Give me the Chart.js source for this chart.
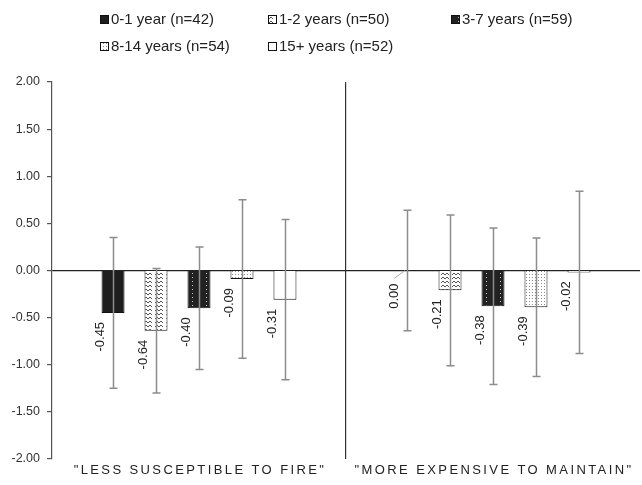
<!DOCTYPE html>
<html>
<head>
<meta charset="utf-8">
<script src="https://cdn.jsdelivr.net/npm/chart.js@4/dist/chart.umd.min.js"></script>
<style>
  html, body { margin: 0; padding: 0; background: #fff; }
  #wrap { width: 642px; height: 485px; position: relative; }
</style>
</head>
<body>
<div id="wrap"><canvas id="c" width="642" height="485"></canvas></div>
<script>
// Categories (statements rated by respondents)
const categories = ['"LESS SUSCEPTIBLE TO FIRE"', '"MORE EXPENSIVE TO MAINTAIN"'];

// Series names (years of experience)
const seriesNames = ['0-1 year (n=42)', '1-2 years (n=50)', '3-7 years (n=59)', '8-14 years (n=54)', '15+ years (n=52)'];

// Mean scores per series, one value per category
const years0to1 = [-0.45, 0.00];
const years1to2 = [-0.64, -0.21];
const years3to7 = [-0.40, -0.38];
const years8to14 = [-0.09, -0.39];
const years15plus = [-0.31, -0.02];

// Error bar half-widths (±) per series, one value per category
const err0to1 = [0.80, 0.64];
const err1to2 = [0.66, 0.80];
const err3to7 = [0.65, 0.83];
const err8to14 = [0.84, 0.735];
const err15plus = [0.85, 0.86];

// Y axis ticks
const yTicks = [2.00, 1.50, 1.00, 0.50, 0.00, -0.50, -1.00, -1.50, -2.00];

const seriesValues = [years0to1, years1to2, years3to7, years8to14, years15plus];
const seriesErrors = [err0to1, err1to2, err3to7, err8to14, err15plus];

// ---- fill patterns ----
function makeTile(w, h, draw) {
  const c = document.createElement('canvas');
  c.width = w; c.height = h;
  const g = c.getContext('2d');
  draw(g);
  return document.getElementById('c').getContext('2d').createPattern(c, 'repeat');
}
const solidBlack = '#1e1e1e';
const wavePattern = makeTile(11, 4, g => {
  g.fillStyle = '#fff'; g.fillRect(0, 0, 11, 4);
  g.strokeStyle = '#555'; g.lineWidth = 1;
  g.beginPath();
  g.moveTo(1, 3); g.lineTo(3, 1); g.lineTo(5, 3); g.lineTo(7, 1); g.lineTo(9, 3);
  g.stroke();
});
const darkDotPattern = makeTile(7, 4, g => {
  g.fillStyle = '#222'; g.fillRect(0, 0, 7, 4);
  g.fillStyle = '#c8c8c8'; g.fillRect(3, 1, 1, 1);
});
const fineDotPattern = makeTile(3, 3, g => {
  g.fillStyle = '#fff'; g.fillRect(0, 0, 3, 3);
  g.fillStyle = '#8a8a8a'; g.fillRect(1, 1, 1, 1);
});
const fills = [solidBlack, wavePattern, darkDotPattern, fineDotPattern, '#ffffff'];

const FONT = '"Liberation Sans", Arial, sans-serif';

// Error bars drawn over the bars
const errorBarPlugin = {
  id: 'errorBars',
  afterDatasetsDraw(chart) {
    const ctx = chart.ctx;
    const y = chart.scales.y;
    ctx.save();
    ctx.strokeStyle = '#8c8c8c';
    ctx.lineWidth = 1.5;
    chart.data.datasets.forEach((ds, di) => {
      const meta = chart.getDatasetMeta(di);
      meta.data.forEach((bar, i) => {
        const v = ds.data[i];
        const e = seriesErrors[di][i];
        const yTop = y.getPixelForValue(v + e);
        const yBot = y.getPixelForValue(v - e);
        const x = Math.round(bar.x) + 0.5;
        ctx.beginPath();
        ctx.moveTo(x, yTop); ctx.lineTo(x, yBot);
        ctx.moveTo(x - 4, yTop); ctx.lineTo(x + 4, yTop);
        ctx.moveTo(x - 4, yBot); ctx.lineTo(x + 4, yBot);
        ctx.stroke();
      });
    });
    ctx.restore();
  }
};

// Rotated value labels below each bar end
const valueLabelPlugin = {
  id: 'valueLabels',
  afterDatasetsDraw(chart) {
    const ctx = chart.ctx;
    ctx.save();
    ctx.font = '13px ' + FONT;
    ctx.fillStyle = '#222';
    chart.data.datasets.forEach((ds, di) => {
      const meta = chart.getDatasetMeta(di);
      meta.data.forEach((bar, i) => {
        const v = ds.data[i];
        const lx = bar.x - 13;
        const top = bar.y + (Math.abs(v) < 0.005 ? 13 : 9);
        if (Math.abs(v) < 0.005) {
          ctx.save();
          ctx.strokeStyle = '#aaa'; ctx.lineWidth = 1;
          ctx.beginPath();
          ctx.moveTo(lx, top - 5); ctx.lineTo(bar.x - 2, bar.y);
          ctx.stroke();
          ctx.restore();
        }
        ctx.save();
        ctx.translate(lx, top);
        ctx.rotate(-Math.PI / 2);
        ctx.textAlign = 'right';
        ctx.textBaseline = 'middle';
        ctx.fillText(v.toFixed(2), 0, 0);
        ctx.restore();
      });
    });
    ctx.restore();
  }
};

// Category labels with wide letter spacing
const categoryLabelPlugin = {
  id: 'categoryLabels',
  afterDraw(chart) {
    const ctx = chart.ctx;
    const x = chart.scales.x;
    ctx.save();
    ctx.font = '13px ' + FONT;
    ctx.fillStyle = '#222';
    ctx.letterSpacing = '2.4px';
    ctx.textAlign = 'center';
    ctx.textBaseline = 'middle';
    categories.forEach((c, i) => {
      ctx.fillText(c, x.getPixelForValue(i) + 1, 470);
    });
    ctx.restore();
  }
};

// Two-row legend laid out in columns
const legendPlugin = {
  id: 'gridLegend',
  afterDraw(chart) {
    const ctx = chart.ctx;
    const cols = [100, 268, 451];
    const rows = [20, 47];
    ctx.save();
    ctx.font = '15px ' + FONT;
    ctx.textBaseline = 'middle';
    chart.data.datasets.forEach((ds, i) => {
      const bx = cols[i % 3];
      const by = rows[Math.floor(i / 3)];
      ctx.fillStyle = ds.backgroundColor;
      ctx.fillRect(bx, by - 5, 9, 9);
      ctx.strokeStyle = '#111'; ctx.lineWidth = 1;
      ctx.strokeRect(bx + 0.5, by - 4.5, 8, 8);
      ctx.fillStyle = '#222';
      ctx.fillText(ds.label, bx + 11, by);
    });
    ctx.restore();
  }
};

new Chart(document.getElementById('c'), {
  type: 'bar',
  data: {
    labels: categories,
    datasets: seriesNames.map((name, i) => ({
      label: name,
      data: seriesValues[i],
      backgroundColor: fills[i],
      borderColor: '#111',
      borderWidth: 1,
      categoryPercentage: 0.731,
      barPercentage: 0.535
    }))
  },
  options: {
    responsive: false,
    animation: false,
    devicePixelRatio: 1,
    layout: { padding: { top: 82, right: 2, left: 0, bottom: 0 } },
    plugins: {
      legend: { display: false },
      tooltip: { enabled: false }
    },
    scales: {
      x: {
        ticks: { display: false },
        border: { display: false },
        grid: {
          offset: true,
          drawTicks: false,
          color: ctx => ctx.index === 1 ? '#333' : 'rgba(0,0,0,0)',
          lineWidth: 1.2
        },
        afterFit(scale) { scale.height = 26; }
      },
      y: {
        min: -2, max: 2,
        afterBuildTicks(scale) { scale.ticks = yTicks.map(v => ({ value: v })); },
        ticks: {
          padding: 7,
          color: '#333',
          font: { family: FONT, size: 12.5 },
          callback: v => Number(v).toFixed(2)
        },
        border: { display: true, color: '#555', width: 1.2 },
        grid: {
          drawOnChartArea: true,
          tickLength: 5,
          tickColor: '#555',
          color: ctx => (ctx.tick && ctx.tick.value === 0) ? '#222' : 'rgba(0,0,0,0)',
          lineWidth: 1.2
        },
        afterFit(scale) { scale.width = 52; }
      }
    }
  },
  plugins: [errorBarPlugin, valueLabelPlugin, categoryLabelPlugin, legendPlugin]
});
</script>
</body>
</html>
